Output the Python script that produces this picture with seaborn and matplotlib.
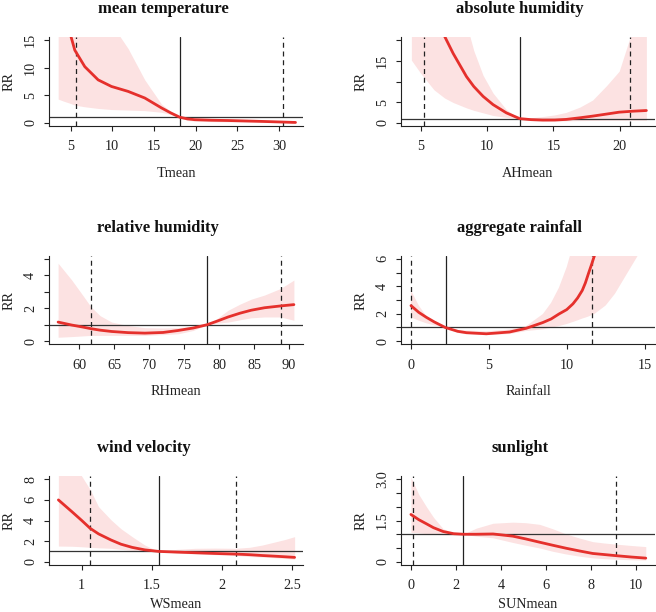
import matplotlib
matplotlib.use("Agg")
import matplotlib.pyplot as plt
import seaborn as sns

# ---- data (exposure-response curves, RR with 95% band) ----

# mean temperature
tmean_x = [3.5, 4.2, 5.0, 5.5, 6.7, 8.3, 9.9, 11.9, 13.9, 15.9, 17.0, 18.1, 19.0, 19.9, 21.9, 23.9, 27.9, 31.7, 32.0]
tmean_rr = [24, 19.5, 15.9, 13.2, 10.2, 7.8, 6.6, 5.7, 4.5, 2.7, 1.8, 1.0, 0.7, 0.55, 0.45, 0.4, 0.24, 0.06, 0.05]
tmean_lo = [4.3, 3.9, 3.5, 3.2, 2.9, 2.6, 2.4, 2.3, 2.2, 1.9, 1.5, 1.0, 0.4, 0.3, 0.2, 0.15, 0.1, 0.0, 0.0]
tmean_hi = [40, 38, 35, 32, 28, 22, 18, 13.5, 7.8, 3.4, 2.1, 1.0, 0.95, 0.9, 0.8, 0.7, 0.5, 0.3, 0.3]

# absolute humidity
ah_x = [4.3, 5.0, 6.0, 6.8, 7.45, 8.45, 9.0, 9.7, 10.45, 11.45, 12.45, 13.3, 14.2, 15.1, 15.95, 17.0, 17.95, 19.0, 19.95, 21.0, 22.0]
ah_rr = [48, 38, 27, 21, 16.8, 11.2, 8.8, 6.4, 4.4, 2.4, 1.0, 0.75, 0.64, 0.65, 0.8, 1.2, 1.6, 2.1, 2.56, 2.8, 2.96]
ah_lo = [15.2, 12, 8, 6.0, 4.9, 3.6, 3.0, 2.4, 1.76, 1.3, 1.0, 0.5, 0.4, 0.4, 0.45, 0.5, 0.55, 0.6, 0.6, 0.6, 0.6]
ah_hi = [80, 70, 55, 42, 33, 24, 17.5, 11.5, 7.2, 3.2, 1.0, 1.2, 1.5, 1.9, 2.5, 3.8, 5.5, 9.0, 12.5, 23, 40]

# relative humidity
rh_x = [57.0, 58.95, 60.5, 61.7, 63.0, 64.65, 67.0, 69.4, 72.0, 74.15, 76.3, 78.3, 79.8, 81.3, 83.0, 84.6, 86.5, 88.8, 90.7]
rh_rr = [1.16, 0.98, 0.86, 0.76, 0.67, 0.59, 0.52, 0.49, 0.53, 0.65, 0.8, 1.0, 1.23, 1.47, 1.7, 1.88, 2.03, 2.14, 2.22]
rh_lo = [0.24, 0.28, 0.32, 0.35, 0.35, 0.35, 0.35, 0.35, 0.4, 0.45, 0.65, 1.0, 1.1, 1.16, 1.3, 1.42, 1.47, 1.47, 1.27]
rh_hi = [4.73, 3.71, 2.8, 2.08, 1.55, 1.16, 0.95, 0.82, 0.8, 0.82, 0.9, 1.0, 1.4, 1.88, 2.25, 2.55, 2.8, 3.2, 3.71]

# aggregate rainfall
rain_x = [0.0, 0.5, 1.0, 1.5, 2.2, 3.0, 3.56, 4.84, 6.33, 7.4, 8.47, 9.0, 9.5, 10.0, 10.4, 10.7, 11.0, 11.2,
          11.4, 11.6, 11.8, 12.5, 13.1, 14.6, 15.0]
rain_rr = [2.59, 2.1, 1.73, 1.4, 1.0, 0.72, 0.62, 0.54, 0.67, 0.94, 1.36, 1.62, 1.98, 2.3, 2.72, 3.15, 3.7, 4.25,
           4.94, 5.6, 6.3, 9.0, 12, 25, 30]
rain_lo = [1.73, 1.5, 1.3, 1.15, 1.0, 0.6, 0.5, 0.44, 0.52, 0.74, 0.86, 0.98, 1.1, 1.25, 1.4, 1.52, 1.65, 1.72,
           1.8, 1.9, 2.0, 2.6, 3.46, 6.3, 7.2]
rain_hi = [3.7, 2.6, 1.8, 1.35, 1.0, 0.82, 0.78, 0.72, 0.85, 1.1, 1.98, 2.8, 3.9, 5.4, 7.0, 8.5, 10, 11.5,
           13, 14.5, 16, 25, 35, 80, 100]

# wind velocity
ws_x = [0.833, 0.93, 1.0, 1.06, 1.12, 1.21, 1.28, 1.36, 1.45, 1.548, 1.68, 1.81, 1.95, 2.1, 2.2, 2.29, 2.36, 2.45, 2.52]
ws_rr = [6.0, 4.85, 4.0, 3.24, 2.7, 2.1, 1.7, 1.39, 1.15, 1.0, 0.93, 0.87, 0.8, 0.74, 0.68, 0.6, 0.55, 0.48, 0.42]
ws_lo = [1.52, 1.5, 1.45, 1.4, 1.35, 1.3, 1.2, 1.1, 1.05, 1.0, 0.85, 0.75, 0.68, 0.6, 0.5, 0.45, 0.4, 0.32, 0.25]
ws_hi = [12, 10, 8.3, 7.0, 5.34, 4.05, 3.2, 2.43, 1.62, 1.0, 1.2, 1.3, 1.32, 1.3, 1.4, 1.62, 1.85, 2.15, 2.43]

# sunlight
sun_x = [0.0, 0.35, 0.69, 1.0, 1.43, 1.9, 2.32, 2.9, 3.65, 4.53, 5.1, 5.72, 6.3, 6.9, 7.5, 8.08, 8.6, 9.11, 9.8, 10.44]
sun_rr = [1.72, 1.53, 1.38, 1.24, 1.1, 1.02, 1.0, 1.0, 1.01, 0.93, 0.83, 0.71, 0.6, 0.49, 0.39, 0.30, 0.26, 0.22, 0.17, 0.13]
sun_lo = [1.07, 1.05, 1.02, 1.0, 0.98, 0.97, 1.0, 0.93, 0.87, 0.7, 0.6, 0.5, 0.38, 0.28, 0.2, 0.14, 0.11, 0.09, 0.07, 0.06]
sun_hi = [3.08, 2.45, 2.0, 1.62, 1.2, 1.05, 1.0, 1.22, 1.4, 1.44, 1.42, 1.36, 1.2, 1.01, 0.86, 0.73, 0.68, 0.64, 0.59, 0.55]

titles = ["mean temperature", "absolute humidity", "relative humidity",
          "aggregate rainfall", "wind velocity", "sunlight"]
xlabels = ["Tmean", "AHmean", "RHmean", "Rainfall", "WSmean", "SUNmean"]

# reference value (solid) and 1st / 99th percentiles (dashed)
ref_values = [18.1, 12.45, 78.3, 2.22, 1.548, 2.32]
pct_low = [5.6, 5.28, 61.7, 0.0, 1.06, 0.08]
pct_high = [30.5, 20.75, 88.8, 11.6, 2.1, 9.1]

x_ticks = [[5, 10, 15, 20, 25, 30], [5, 10, 15, 20], [60, 65, 70, 75, 80, 85, 90],
           [0, 5, 10, 15], [1, 1.5, 2, 2.5], [0, 2, 4, 6, 8, 10]]
x_ticklabels = [None, None, None, None, ["1", "1.5", "2", "2.5"], None]
y_ticks = [[0, 5, 10, 15], [0, 5, 10, 15, 20], [0, 1, 2, 3, 4, 5],
           [0, 1, 2, 3, 4, 5, 6], [0, 2, 4, 6, 8], [0, 0.5, 1.0, 1.5, 2.0, 2.5, 3.0]]
y_ticklabels = [["0", "5", "10", "15"], ["0", "5", "", "15", ""], ["0", "", "2", "", "4", ""],
                ["0", "", "2", "", "4", "", "6"], ["0", "2", "4", "6", "8"],
                ["0", "", "", "1.5", "", "", "3.0"]]
y_max = [15, 20, 5, 6, 8, 3]

# ---- layout (figure fractions) ----
X_LIMS = [(2.4, 32.9), (3.52, 22.65), (55.7, 92.0), (-0.64, 15.67), (0.766, 2.58), (-0.44, 10.85)]
AX_LEFT = [0.0747, 0.6113]
AX_BOTTOM = [0.7941, 0.4371, 0.0768]
AX_W, AX_H = 0.3872, 0.1454
TITLE_X = [0.449, 0.468, 0.429, 0.468, 0.373, 0.468]
XLABEL_PAD = [10, 10, 4]

LINE = "#E5302C"
BAND = "#FCE2E2"
INK = "#222222"

sns.set_theme(style="ticks")
plt.rcParams["font.family"] = ["Liberation Serif", "DejaVu Serif"]
plt.rcParams["axes.linewidth"] = 0.8

xs = [tmean_x, ah_x, rh_x, rain_x, ws_x, sun_x]
rrs = [tmean_rr, ah_rr, rh_rr, rain_rr, ws_rr, sun_rr]
los = [tmean_lo, ah_lo, rh_lo, rain_lo, ws_lo, sun_lo]
his = [tmean_hi, ah_hi, rh_hi, rain_hi, ws_hi, sun_hi]

fig = plt.figure(figsize=(6.56, 6.12), dpi=100)

for i in range(6):
    row, col = i // 2, i % 2
    ax = fig.add_axes([AX_LEFT[col], AX_BOTTOM[row], AX_W, AX_H])
    ax.fill_between(xs[i], los[i], his[i], color=BAND, lw=0, zorder=1)
    sns.lineplot(x=xs[i], y=rrs[i], ax=ax, color=LINE, lw=2.0, sort=False, zorder=3)
    ax.axhline(1, color="#333333", lw=0.9, zorder=2)
    ax.axvline(ref_values[i], color=INK, lw=0.9, zorder=2)
    for v in (pct_low[i], pct_high[i]):
        ax.axvline(v, color=INK, lw=0.9, ls=(0, (4, 3)), zorder=2)

    ax.set_xlim(*X_LIMS[i])
    ax.set_ylim(-0.04 * y_max[i], 1.04 * y_max[i])
    ax.set_xticks(x_ticks[i])
    if x_ticklabels[i] is not None:
        ax.set_xticklabels(x_ticklabels[i])
    ax.set_yticks(y_ticks[i])
    ax.set_yticklabels(y_ticklabels[i], rotation=90, va="center")
    ax.tick_params(axis="both", length=3.6, width=0.8, color=INK, labelsize=10.3,
                   labelcolor=INK)
    ax.tick_params(axis="x", pad=6.5)
    ax.tick_params(axis="y", pad=5)
    sns.despine(ax=ax)
    ax.spines["left"].set_color(INK)
    ax.spines["bottom"].set_color(INK)

    ax.set_xlabel(xlabels[i], fontsize=10.3, labelpad=XLABEL_PAD[row], color=INK)
    ax.set_ylabel("RR", fontsize=10.3, labelpad=6, color=INK)
    ax.set_title(titles[i], fontsize=12, fontweight="bold", x=TITLE_X[i], pad=17,
                 color="#111111")

fig.savefig("out.png", dpi=100)
